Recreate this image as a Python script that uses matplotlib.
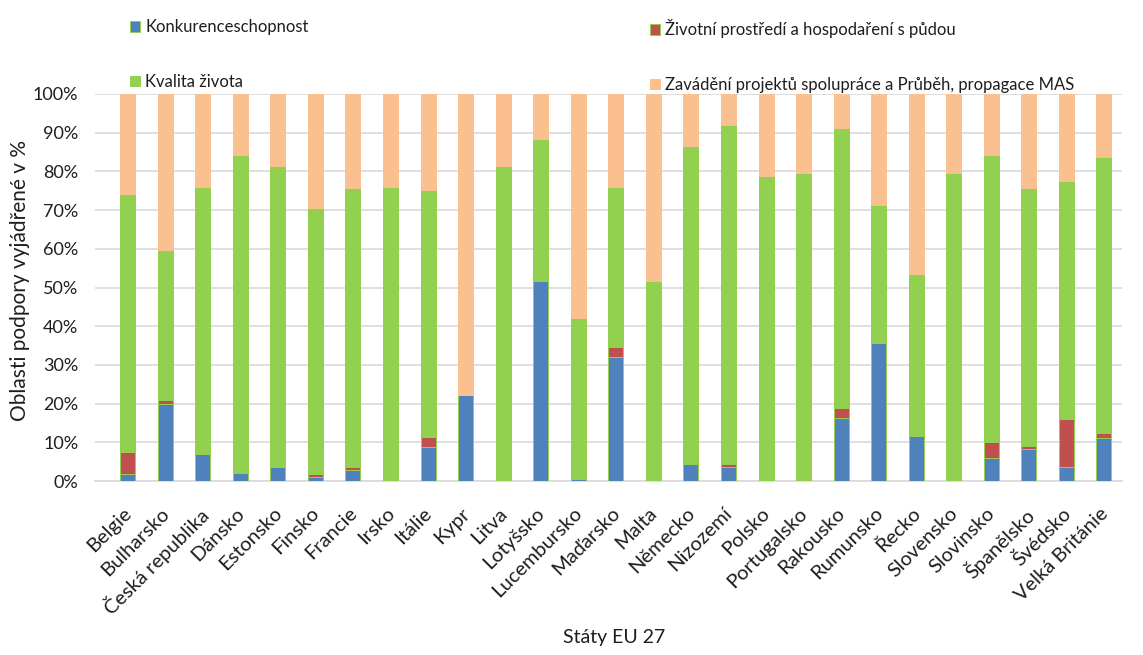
import matplotlib
matplotlib.use("Agg")
import matplotlib.pyplot as plt
import numpy as np
from matplotlib.patches import Patch
from matplotlib.transforms import ScaledTranslation

plt.rcParams['font.family'] = ['Lato', 'DejaVu Sans']

countries = ["Belgie", "Bulharsko", "Česká republika", "Dánsko", "Estonsko", "Finsko",
             "Francie", "Irsko", "Itálie", "Kypr", "Litva", "Lotyšsko", "Lucembursko",
             "Maďarsko", "Malta", "Německo", "Nizozemí", "Polsko", "Portugalsko",
             "Rakousko", "Rumunsko", "Řecko", "Slovensko", "Slovinsko", "Španělsko",
             "Švédsko", "Velká Británie"]

konkurence = [1.7, 19.9, 7.1, 2.0, 3.5, 1.1, 2.8, 0.0, 8.7, 22.2, 0.0, 51.7, 0.4,
              32.0, 0.0, 4.3, 3.6, 0.0, 0.0, 16.4, 35.7, 11.6, 0.0, 6.0, 8.3, 3.5, 11.2]
prostredi = [5.7, 1.0, 0.0, 0.0, 0.0, 0.8, 0.7, 0.0, 2.6, 0.0, 0.0, 0.0, 0.5,
             2.5, 0.0, 0.3, 0.7, 0.0, 0.0, 2.5, 0.0, 0.0, 0.0, 4.2, 0.7, 12.4, 1.3]
kvalita = [66.7, 38.8, 68.9, 82.2, 78.0, 68.7, 72.1, 76.0, 64.0, 0.0, 81.5, 36.8, 41.1,
           41.5, 51.7, 82.0, 87.7, 78.9, 79.5, 72.2, 35.6, 41.9, 79.5, 74.0, 66.6, 61.7, 71.2]
zavadeni = [25.9, 40.3, 24.0, 15.8, 18.5, 29.4, 24.4, 24.0, 24.7, 77.8, 18.5, 11.5, 58.0,
            24.0, 48.3, 13.4, 8.0, 21.1, 20.5, 8.9, 28.7, 46.5, 20.5, 15.8, 24.4, 22.4, 16.3]

series_names = ["Konkurenceschopnost", "Životní prostředí a hospodaření s půdou",
                "Kvalita života", "Zavádění projektů spolupráce a Průběh, propagace MAS"]
colors = ["#4F81BD", "#C0504D", "#92D050", "#FAC090"]
yticks = [0, 10, 20, 30, 40, 50, 60, 70, 80, 90, 100]

fig = plt.figure(figsize=(11.43, 6.55), dpi=100)
ax = fig.add_axes([95/1143, 1-481/655, (1122-95)/1143, (481-94)/655])

x = np.arange(len(countries))
w = 0.4
data = [konkurence, prostredi, kvalita, zavadeni]
bottom = np.zeros(len(countries))
for i, (vals, c) in enumerate(zip(data, colors)):
    vals = np.array(vals)
    ec = "#92D050" if i < 2 else c
    ax.bar(x, vals, w, bottom=bottom, color=c, edgecolor=ec, linewidth=0.7, zorder=3)
    bottom += vals

ax.set_xlim(-0.87, len(countries) - 0.52)
ax.set_ylim(0, 100)
ax.set_yticks(yticks)
ax.set_yticklabels([f"{t}%" for t in yticks], fontsize=13, color="#1e1e1e")
ax.yaxis.grid(True, color="#D9D9D9", linewidth=1.2, zorder=0)
ax.set_axisbelow(True)
ax.tick_params(axis='both', length=0)
ax.tick_params(axis='y', pad=12)
ax.set_xticks(x)
ax.set_xticklabels(countries, rotation=45, ha='right', rotation_mode='anchor',
                   fontsize=14.5, color="#1e1e1e")
ax.tick_params(axis='x', pad=17)
shift = ScaledTranslation(-5/100, 0, fig.dpi_scale_trans)
for lab in ax.get_xticklabels():
    lab.set_transform(lab.get_transform() + shift)
for s in ["top", "right", "left"]:
    ax.spines[s].set_visible(False)
ax.spines["bottom"].set_color("#D9D9D9")
ax.spines["bottom"].set_linewidth(1.2)

fig.text(20/1143, 1-280/655, "Oblasti podpory vyjádřené v %", rotation=90,
         ha='center', va='center', fontsize=15, color="#1e1e1e")
fig.text(614/1143, 1-637/655, "Státy EU 27", ha='center', va='center',
         fontsize=14, color="#1e1e1e")

handles = [Patch(facecolor=c, edgecolor="#92D050" if i < 2 else c, linewidth=0.7)
           for i, c in enumerate(colors)]
leg_kw = dict(frameon=False, fontsize=12, handlelength=0.6, handleheight=0.6,
              handletextpad=0.3, labelspacing=2.3, borderpad=0, labelcolor="#1e1e1e")
l1 = fig.legend([handles[0], handles[2]], [series_names[0], series_names[2]],
                loc='upper left', bbox_to_anchor=(122/1143, 1-11/655), **leg_kw)
l2 = fig.legend([handles[1], handles[3]], [series_names[1], series_names[3]],
                loc='upper left', bbox_to_anchor=(642/1143, 1-11/655), **leg_kw)

fig.savefig("out.png", dpi=100)
